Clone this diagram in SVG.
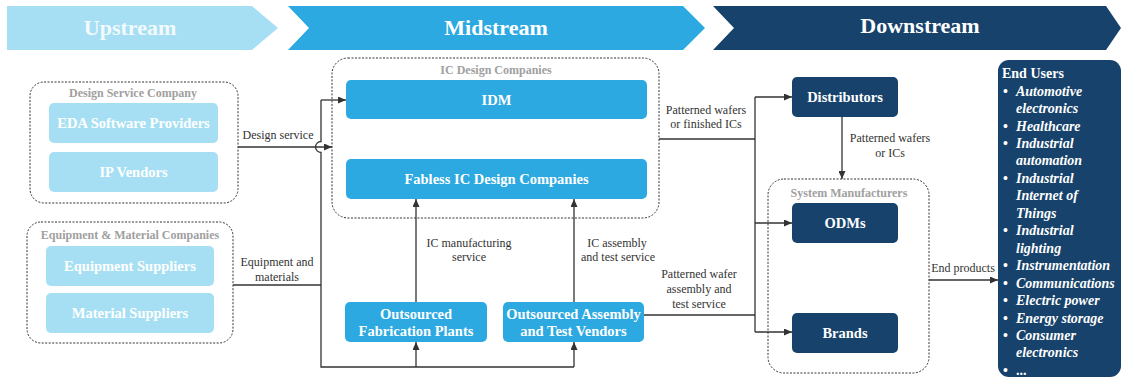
<svg xmlns="http://www.w3.org/2000/svg" width="1121" height="378" viewBox="0 0 1121 378" font-family="'Liberation Serif', Tinos, 'Times New Roman', Times, 'DejaVu Serif', serif">
  <defs>
    <marker id="arrow" viewBox="0 0 8 7" refX="8" refY="3.5" markerWidth="8" markerHeight="7" markerUnits="userSpaceOnUse" orient="auto">
      <path d="M0,0 L8,3.5 L0,7 z" fill="#333"/>
    </marker>
    <style>
      text { font-family: 'Liberation Serif', Tinos, 'Times New Roman', Times, 'DejaVu Serif', serif; }
      .stage { font-weight: bold; font-size: 22px; text-anchor: middle; }
      .group { fill: none; stroke: #333; stroke-width: 1; stroke-dasharray: 2 1.5; }
      .gtitle { font-weight: bold; font-size: 12px; fill: #a0a0a0; text-anchor: middle; }
      .light { fill: #a6dff3; }
      .mid { fill: #2ca9e1; }
      .dark { fill: #16426b; }
      .btext { font-weight: bold; font-size: 14.5px; fill: #ffffff; text-anchor: middle; }
      .conn { fill: none; stroke: #333; stroke-width: 1.3; }
      .lbl { font-size: 12px; fill: #333; text-anchor: middle; }
      .list { font-weight: bold; font-style: italic; font-size: 14px; fill: #ffffff; }
      .bullet { font-weight: bold; font-size: 14px; fill: #ffffff; }
    </style>
  </defs>

  <!-- value-chain stage banners -->
  <g id="stages">
    <polygon points="7,6 252,6 278,28 252,50 7,50" fill="#a6dff3"/>
    <text class="stage" x="130" y="35" fill="#f2fafd">Upstream</text>
    <polygon points="288,6 683,6 705,28 683,50 288,50 309,28" fill="#2ca9e1"/>
    <text class="stage" x="496" y="35" fill="#ffffff">Midstream</text>
    <polygon points="713,6 1106,6 1121,28 1106,50 713,50 734,28" fill="#16426b"/>
    <text class="stage" x="920" y="33" fill="#ffffff">Downstream</text>
  </g>

  <!-- upstream -->
  <g id="design-service-company">
    <rect class="group" x="30" y="82" width="208" height="121" rx="14"/>
    <text class="gtitle" x="133" y="97">Design Service Company</text>
  </g>
  <g id="eda-software-providers">
    <rect class="light" x="49" y="103" width="169" height="40" rx="5"/>
    <text class="btext" x="133.5" y="128">EDA Software Providers</text>
  </g>
  <g id="ip-vendors">
    <rect class="light" x="49" y="152" width="169" height="40" rx="5"/>
    <text class="btext" x="133.5" y="177">IP Vendors</text>
  </g>

  <g id="equipment-material-companies">
    <rect class="group" x="27" y="222" width="206" height="121" rx="14"/>
    <text class="gtitle" x="130" y="239">Equipment &amp; Material Companies</text>
  </g>
  <g id="equipment-suppliers">
    <rect class="light" x="46" y="246" width="168" height="40" rx="5"/>
    <text class="btext" x="130" y="271">Equipment Suppliers</text>
  </g>
  <g id="material-suppliers">
    <rect class="light" x="46" y="293" width="168" height="40" rx="5"/>
    <text class="btext" x="130" y="318">Material Suppliers</text>
  </g>

  <!-- midstream -->
  <g id="ic-design-companies">
    <rect class="group" x="332" y="58" width="327" height="160" rx="16"/>
    <text class="gtitle" x="496" y="74">IC Design Companies</text>
  </g>
  <g id="idm">
    <rect class="mid" x="346" y="80" width="301" height="39" rx="5"/>
    <text class="btext" x="496.5" y="105">IDM</text>
  </g>
  <g id="fabless">
    <rect class="mid" x="346" y="159" width="301" height="40" rx="5"/>
    <text class="btext" x="496.5" y="184">Fabless IC Design Companies</text>
  </g>
  <g id="fabrication-plants">
    <rect class="mid" x="345" y="302" width="142" height="40" rx="5"/>
    <text class="btext" x="416" y="319">Outsourced</text>
    <text class="btext" x="416" y="336">Fabrication Plants</text>
  </g>
  <g id="assembly-test-vendors">
    <rect class="mid" x="503" y="302" width="141" height="40" rx="5"/>
    <text class="btext" x="573.5" y="319">Outsourced Assembly</text>
    <text class="btext" x="573.5" y="336">and Test Vendors</text>
  </g>

  <!-- downstream -->
  <g id="distributors">
    <rect class="dark" x="792" y="77" width="106" height="40" rx="5"/>
    <text class="btext" x="845" y="102">Distributors</text>
  </g>
  <g id="system-manufacturers">
    <rect class="group" x="768" y="179" width="161" height="194" rx="16"/>
    <text class="gtitle" x="849" y="197">System Manufacturers</text>
  </g>
  <g id="odms">
    <rect class="dark" x="792" y="203" width="106" height="40" rx="5"/>
    <text class="btext" x="845" y="228">ODMs</text>
  </g>
  <g id="brands">
    <rect class="dark" x="792" y="313" width="106" height="40" rx="5"/>
    <text class="btext" x="845" y="338">Brands</text>
  </g>

  <g id="end-users">
    <rect class="dark" x="998" y="60" width="123" height="317" rx="11"/>
    <text class="bullet" x="1002" y="78" font-size="14.5">End Users</text>
    <g class="bullet">
      <text x="1003" y="96">•</text>
      <text x="1003" y="131">•</text>
      <text x="1003" y="148">•</text>
      <text x="1003" y="183">•</text>
      <text x="1003" y="235">•</text>
      <text x="1003" y="270">•</text>
      <text x="1003" y="288">•</text>
      <text x="1003" y="305">•</text>
      <text x="1003" y="323">•</text>
      <text x="1003" y="340">•</text>
      <text x="1003" y="375">•</text>
    </g>
    <g class="list">
      <text x="1016" y="96">Automotive</text>
      <text x="1016" y="113">electronics</text>
      <text x="1016" y="131">Healthcare</text>
      <text x="1016" y="148">Industrial</text>
      <text x="1016" y="165">automation</text>
      <text x="1016" y="183">Industrial</text>
      <text x="1016" y="200">Internet of</text>
      <text x="1016" y="218">Things</text>
      <text x="1016" y="235">Industrial</text>
      <text x="1016" y="253">lighting</text>
      <text x="1016" y="270">Instrumentation</text>
      <text x="1016" y="288">Communications</text>
      <text x="1016" y="305">Electric power</text>
      <text x="1016" y="323">Energy storage</text>
      <text x="1016" y="340">Consumer</text>
      <text x="1016" y="357">electronics</text>
      <text x="1016" y="375" font-style="normal">...</text>
    </g>
  </g>

  <!-- connectors -->
  <g id="connectors">
    <!-- design service into IC design companies -->
    <path class="conn" d="M238,147 H332" marker-end="url(#arrow)"/>
    <!-- supply bus: feeds IDM and the bottom rail, hopping over the design-service line -->
    <path class="conn" d="M321,100 H346" marker-end="url(#arrow)"/>
    <path class="conn" d="M321,100 V141.5 A5.5,5.5 0 0 0 321,152.5 V367 H574"/>
    <path class="conn" d="M233,285 H321"/>
    <path class="conn" d="M416,367 V342" marker-end="url(#arrow)"/>
    <path class="conn" d="M574,367 V342" marker-end="url(#arrow)"/>
    <!-- services up into fabless -->
    <path class="conn" d="M416,302 V199" marker-end="url(#arrow)"/>
    <path class="conn" d="M574,302 V199" marker-end="url(#arrow)"/>
    <!-- midstream to downstream trunk -->
    <path class="conn" d="M659,139 H755"/>
    <path class="conn" d="M644,315 H755"/>
    <path class="conn" d="M755,97 V332"/>
    <path class="conn" d="M755,97 H792" marker-end="url(#arrow)"/>
    <path class="conn" d="M755,223 H792" marker-end="url(#arrow)"/>
    <path class="conn" d="M755,332 H792" marker-end="url(#arrow)"/>
    <path class="conn" d="M842,117 V179" marker-end="url(#arrow)"/>
    <path class="conn" d="M929,280 H998" marker-end="url(#arrow)"/>

    <text class="lbl" x="278" y="139">Design service</text>
    <text class="lbl" x="277" y="266">Equipment and</text>
    <text class="lbl" x="277" y="281">materials</text>
    <text class="lbl" x="469" y="247">IC manufacturing</text>
    <text class="lbl" x="469" y="261">service</text>
    <text class="lbl" x="617" y="247">IC assembly</text>
    <text class="lbl" x="618" y="261">and test service</text>
    <text class="lbl" x="706" y="114">Patterned wafers</text>
    <text class="lbl" x="706" y="128">or finished ICs</text>
    <text class="lbl" x="890" y="142">Patterned wafers</text>
    <text class="lbl" x="890" y="157">or ICs</text>
    <text class="lbl" x="699" y="278">Patterned wafer</text>
    <text class="lbl" x="699" y="293">assembly and</text>
    <text class="lbl" x="699" y="308">test service</text>
    <text class="lbl" x="963" y="271.5" font-size="10">End products</text>
  </g>
</svg>
